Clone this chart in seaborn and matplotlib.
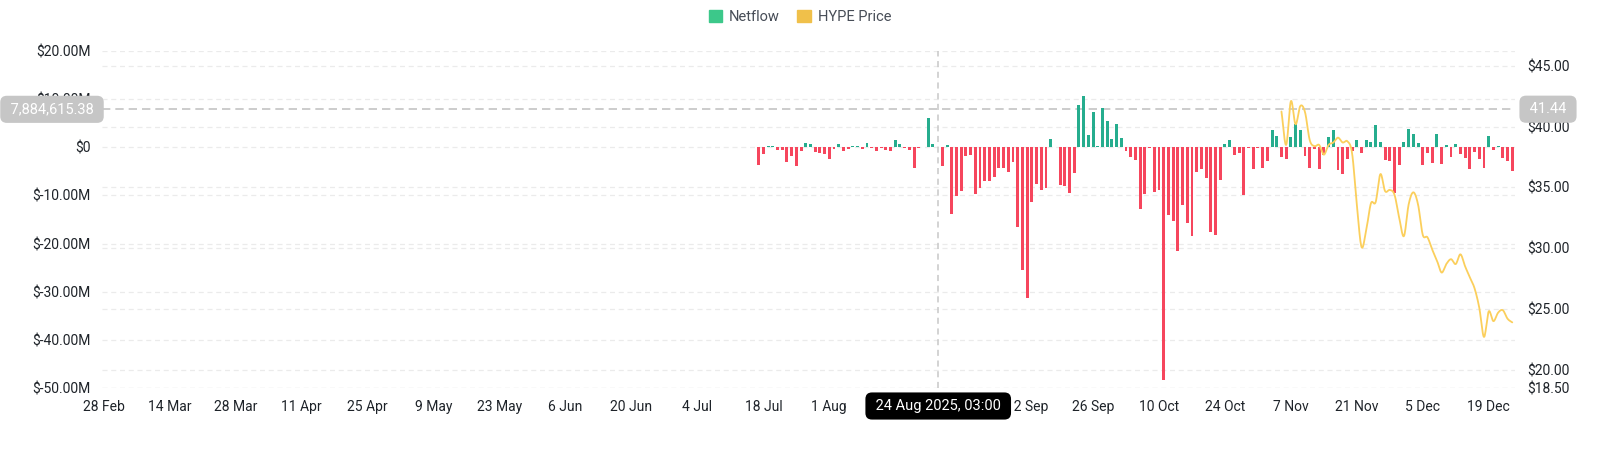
import numpy as np
import pandas as pd
import matplotlib
matplotlib.use('Agg')
import matplotlib.pyplot as plt
import matplotlib.dates as mdates
import matplotlib.transforms as mtransforms
from matplotlib.patches import Patch
from matplotlib.ticker import FuncFormatter
import seaborn as sns

# --- data ---
netflow_start = '2025-07-17'
netflow_m = [
    -3.7, -1.4, 0.3, 0.2, -0.6, -0.6, -3.0, -1.9, -3.8, -0.8,
    0.8, 0.6, -0.9, -1.1, -1.4, -2.4, -0.35, 0.75, -0.8, -0.35,
    0.3, 0.3, -0.3, 0.8, -0.05, -0.8, -0.05, -0.6, -0.75, 1.5,
    0.7, -0.2, -0.6, -4.4, -0.15, 0.0, 6.1, 0.7, 0.0, -3.9,
    0.5, -13.9, -10.1, -9.1, -1.8, -1.6, -9.6, -8.5, -6.9, -6.9,
    -6.1, -4.3, -4.3, -5.1, -3.1, -16.6, -25.5, -31.4, -11.4, -7.6,
    -8.8, -8.5, 1.7, 0.0, -7.8, -8.0, -9.5, -5.4, 8.7, 10.6,
    2.6, 7.4, 0.2, 8.2, 5.5, 1.8, 4.9, 2.0, -0.8, -2.1,
    -2.6, -12.8, -9.6, -0.2, -9.3, -8.8, -48.3, -14.0, -15.3, -21.5,
    -11.9, -15.7, -18.4, -5.1, -4.5, -6.3, -17.5, -18.2, -6.7, 0.6,
    1.5, -1.6, -1.1, -10.0, -0.2, -4.5, -0.15, -4.2, -2.8, 3.5,
    2.3, -2.1, -2.5, 2.2, 4.9, 3.6, -1.9, -4.2, -0.35, -4.6,
    -1.6, 2.1, 3.6, -4.7, -5.5, -2.5, -0.8, 1.5, -1.1, 1.5,
    1.0, 4.7, 1.2, -2.7, -2.9, -9.4, -3.6, 1.0, 3.7, 2.8,
    0.9, -3.7, -1.1, -3.3, 2.8, -3.4, 0.4, -2.1, 0.6, -1.4,
    -2.3, -4.6, -0.9, -2.4, -4.3, 2.3, -0.5, 0.3, -2.3, -2.9,
    -5.0,
]

price_start = '2025-11-05'
hype_price = [
    41.25, 38.5, 42.1, 40.2, 41.7, 41.2, 38.9, 38.4, 38.5, 37.7,
    38.5, 38.7, 39.1, 38.7, 38.8, 37.8, 33.6, 30.1, 31.5, 33.7,
    33.8, 36.1, 34.7, 34.8, 34.4, 32.5, 31.0, 33.6, 34.6, 33.6,
    31.1, 30.9, 29.9, 29.0, 28.0, 28.7, 29.1, 28.7, 29.5, 28.5,
    27.6, 26.7, 25.1, 22.7, 24.8, 24.0, 24.7, 24.9, 24.2, 23.9,
]

x_tick_first = '2025-02-28'
x_tick_last = '2025-12-19'
left_ticks_m = [20, 10, 0, -10, -20, -30, -40, -50]
right_ticks = [18.5, 20, 25, 30, 35, 40, 45]

cursor_time = '2025-08-24 03:00'
cursor_netflow = 7884615.38
cursor_price = 41.44

GREEN = '#26ad8e'
RED = '#f6465d'
LINE = '#fbcf5c'
GRID = '#ebebeb'
TXT = '#1e2329'


def catmull_rom(x, y, steps=12):
    """Smooth curve through the points (only for drawing)."""
    x = np.asarray(x, float)
    y = np.asarray(y, float)
    xp = np.concatenate([[2 * x[0] - x[1]], x, [2 * x[-1] - x[-2]]])
    yp = np.concatenate([[2 * y[0] - y[1]], y, [2 * y[-1] - y[-2]]])
    t = np.linspace(0, 1, steps, endpoint=False)
    xs, ys = [], []
    for k in range(len(x) - 1):
        for arr, out in ((xp, xs), (yp, ys)):
            p0, p1, p2, p3 = arr[k:k + 4]
            out.append(0.5 * (2 * p1 + (-p0 + p2) * t
                              + (2 * p0 - 5 * p1 + 4 * p2 - p3) * t ** 2
                              + (-p0 + 3 * p1 - 3 * p2 + p3) * t ** 3))
    xs.append([x[-1]])
    ys.append([y[-1]])
    return np.concatenate(xs), np.concatenate(ys)


sns.set_theme(style='white')
plt.rcParams['font.family'] = ['Roboto', 'DejaVu Sans']

flow_dates = pd.date_range(netflow_start, periods=len(netflow_m), freq='D')
flow = np.array(netflow_m) * 1e6
price_dates = pd.date_range(price_start, periods=len(hype_price), freq='D')

fig = plt.figure(figsize=(16, 4.54), dpi=100)
ax = fig.add_axes([102 / 1600, 1 - 388 / 454, (1515 - 102) / 1600, (388 - 51) / 454])
ax2 = ax.twinx()

# netflow bars
colors = [GREEN if v >= 0 else RED for v in flow]
ax.bar(flow_dates, flow, width=0.62, color=colors, linewidth=0, zorder=2)

# price line (smoothed for display)
sx, sy = catmull_rom(mdates.date2num(price_dates), hype_price)
sns.lineplot(x=mdates.num2date(sx), y=sy, ax=ax2, color=LINE, linewidth=1.3,
             estimator=None, sort=False)

# axes ranges
ax.set_ylim(min(left_ticks_m) * 1e6, max(left_ticks_m) * 1e6)
ax2.set_ylim(min(right_ticks), 46.23)
ax.set_xlim(pd.Timestamp(x_tick_first) - pd.Timedelta(hours=10),
            pd.Timestamp(flow_dates[-1]) + pd.Timedelta(hours=14))

# ticks
xt = pd.date_range(x_tick_first, x_tick_last, freq='14D')
ax.set_xticks(xt)
ax.xaxis.set_major_formatter(FuncFormatter(
    lambda v, p: f"{mdates.num2date(v).day} {mdates.num2date(v).strftime('%b')}"))
ax.set_yticks([t * 1e6 for t in left_ticks_m])
ax.yaxis.set_major_formatter(FuncFormatter(
    lambda v, p: '$0' if v == 0 else f'${v / 1e6:.2f}M'))
ax2.set_yticks(right_ticks)
ax2.yaxis.set_major_formatter(FuncFormatter(lambda v, p: f'${v:.2f}'))

ax.tick_params(axis='x', length=0, pad=8.5, labelsize=10, labelcolor=TXT)
ax.tick_params(axis='y', length=0, pad=8, labelsize=10, labelcolor=TXT)
ax2.tick_params(axis='y', length=0, pad=9, labelsize=10, labelcolor=TXT)
ax.set_xlabel('')
ax.set_ylabel('')
ax2.set_xlabel('')
ax2.set_ylabel('')
for a in (ax, ax2):
    for s in a.spines.values():
        s.set_visible(False)

# grid: left ticks plus right ticks mapped onto the left scale
dash = (0, (4, 3))
ax.grid(False)
ax2.grid(False)
lo, hi = ax.get_ylim()
lo2, hi2 = ax2.get_ylim()
for t in ax.get_yticks():
    ax.axhline(t, color=GRID, linestyle=dash, linewidth=0.9, zorder=0.5)
for t in right_ticks:
    ax.axhline(lo + (t - lo2) / (hi2 - lo2) * (hi - lo), color=GRID,
               linestyle=dash, linewidth=0.9, zorder=0.5)

# crosshair
ax.axvline(pd.Timestamp(cursor_time), color='#c8c8c8', linestyle=(0, (4, 3)),
           linewidth=1.1, zorder=1)
ax.axhline(cursor_netflow, color='#c4c4c4', linestyle=(0, (5, 3)),
           linewidth=1.2, zorder=1)

left_tr = mtransforms.blended_transform_factory(fig.transFigure, ax.transData)
ax.text(0.0325, cursor_netflow, f' {cursor_netflow:,.2f} ', transform=left_tr,
        ha='center', va='center', color='white', fontsize=10.5, zorder=10,
        bbox=dict(boxstyle='round,pad=0.45', fc='#c6c6c6', ec='none'))
right_tr = mtransforms.blended_transform_factory(fig.transFigure, ax2.transData)
ax2.text(1548 / 1600, cursor_price, f' {cursor_price:.2f} ', transform=right_tr,
         ha='center', va='center', color='white', fontsize=10.5, zorder=10,
         bbox=dict(boxstyle='round,pad=0.45', fc='#c6c6c6', ec='none'))
bottom_tr = mtransforms.blended_transform_factory(ax.transData, fig.transFigure)
ct = pd.Timestamp(cursor_time)
ax.text(ct, 1 - 406 / 454, f" {ct.day} {ct.strftime('%b %Y, %H:%M')} ",
        transform=bottom_tr, ha='center', va='center', color='white',
        fontsize=10.5, zorder=10,
        bbox=dict(boxstyle='round,pad=0.45', fc='black', ec='none'))

# legend
handles = [Patch(color='#3cc88a', label='Netflow'),
           Patch(color='#f0c04a', label='HYPE Price')]
fig.legend(handles=handles, loc='center', bbox_to_anchor=(0.5, 1 - 17 / 454),
           ncol=2, frameon=False, handlelength=0.9, handleheight=0.9,
           handletextpad=0.5, columnspacing=1.2, fontsize=10.5,
           labelcolor='#474d57')

fig.savefig('out.png', dpi=100)
